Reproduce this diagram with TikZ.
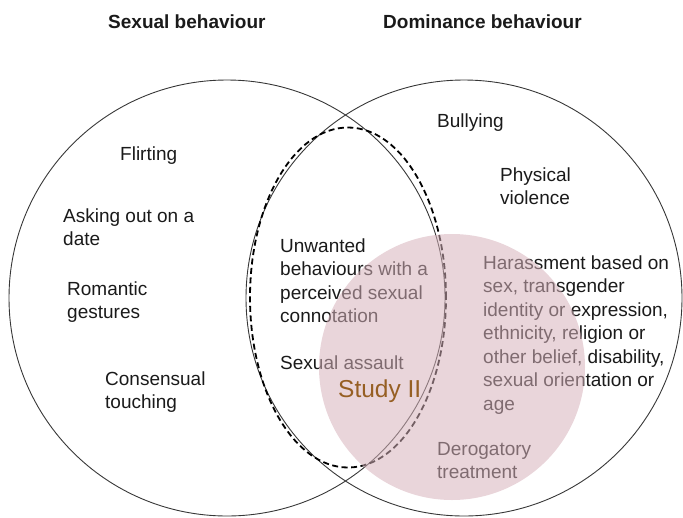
\documentclass[tikz,border=0pt]{standalone}
\usepackage{fontspec}
\setmainfont{Liberation Sans}
\definecolor{txt}{RGB}{26,26,26}
\definecolor{ring}{RGB}{55,55,55}
\definecolor{studyfill}{RGB}{214,177,186}
\definecolor{studytext}{RGB}{150,95,35}
\begin{document}
\begin{tikzpicture}[x=1pt,y=-1pt,
  % multi-line labels are placed at the baseline of their last line
  lbl/.style={anchor=base west, inner sep=0pt, align=left, text=txt,
              font=\fontsize{19}{23.5}\selectfont},
  heading/.style={anchor=base west, inner sep=0pt, text=txt,
              font=\fontsize{19}{23}\selectfont\bfseries},
  setring/.style={draw=ring, line width=0.9pt},
  overlap/.style={draw=black, line width=1.8pt, dash pattern=on 6pt off 3.5pt}]
\useasboundingbox (0,0) rectangle (683,517);
\clip (0,0) rectangle (683,517);

% headings
\node[heading] (hsex) at (108,28) {Sexual behaviour};
\node[heading] (hdom) at (383,28) {Dominance behaviour};

% the two sets and their shared region
\draw[setring] (227,298) circle[radius=218pt];
\draw[setring] (464,298) circle[radius=218pt];
\draw[overlap] (348,297.5) ellipse[x radius=98pt, y radius=170pt];

% sexual behaviour only
\node[lbl] (flirt) at (120,160) {Flirting};
\node[lbl] (date) at (63,245.5) {Asking out on a\\date};
\node[lbl] (romance) at (67,318.5) {Romantic\\gestures};
\node[lbl] (touch) at (105,408.5) {Consensual\\touching};

% shared region
\node[lbl] (unwanted) at (280,322.5) {Unwanted\\behaviours with a\\perceived sexual\\connotation};
\node[lbl] (assault) at (280,369) {Sexual assault};

% dominance behaviour only
\node[lbl] (bully) at (437,127) {Bullying};
\node[lbl] (violence) at (500,204.5) {Physical\\violence};
\node[lbl] (harass) at (483,410) {Harassment based on\\sex, transgender\\identity or expression,\\ethnicity, religion or\\other belief, disability,\\sexual orientation or\\age};
\node[lbl] (derog) at (437,478.5) {Derogatory\\treatment};

% scope of the study, laid over the sets
\fill[studyfill, fill opacity=0.54] (452,367) circle[radius=133pt];
\node[anchor=base west, inner sep=0pt, text=studytext,
      font=\fontsize{24.5}{28}\selectfont] (study) at (338,397) {Study II};
\end{tikzpicture}
\end{document}
